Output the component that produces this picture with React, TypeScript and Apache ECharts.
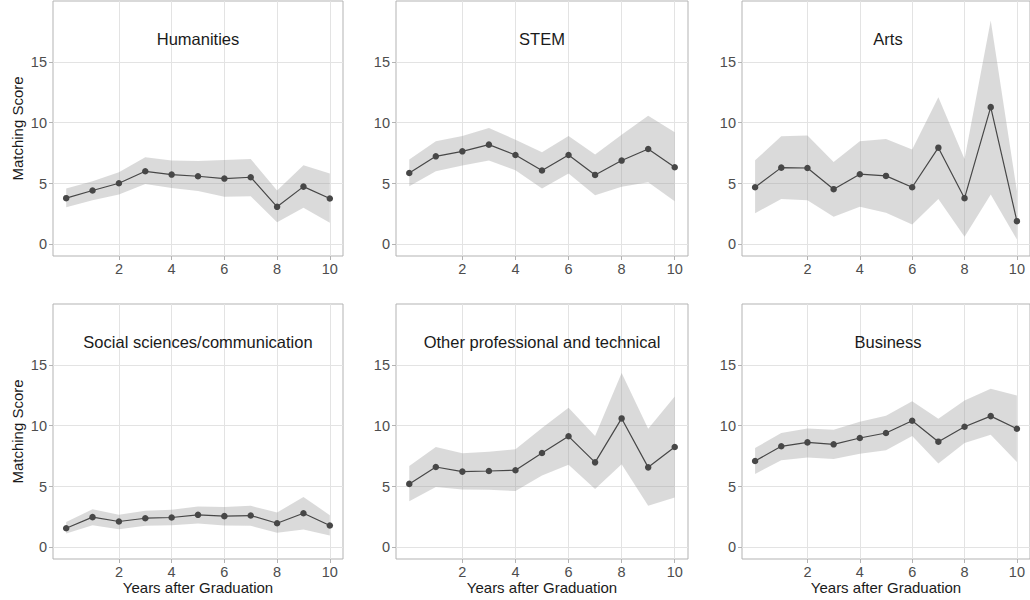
import React, { useEffect, useRef } from "react";
import * as echarts from "echarts";

// ---------------- data ----------------
const years = [0, 1, 2, 3, 4, 5, 6, 7, 8, 9, 10];

const panelTitles = [
  "Humanities",
  "STEM",
  "Arts",
  "Social sciences/communication",
  "Other professional and technical",
  "Business",
];

const humanitiesMean = [3.8, 4.43, 5.03, 6.01, 5.74, 5.6, 5.41, 5.52, 3.09, 4.75, 3.77];
const humanitiesUpper = [4.59, 5.19, 5.93, 7.16, 6.89, 6.86, 6.94, 7.02, 4.43, 6.5, 5.82];
const humanitiesLower = [3.06, 3.63, 4.1, 4.97, 4.64, 4.4, 3.91, 3.96, 1.83, 3.01, 1.78];

const stemMean = [5.87, 7.24, 7.65, 8.2, 7.35, 6.07, 7.35, 5.71, 6.89, 7.84, 6.34];
const stemUpper = [6.97, 8.47, 8.91, 9.56, 8.61, 7.57, 8.91, 7.38, 9.02, 10.57, 9.21];
const stemLower = [4.78, 6.01, 6.48, 6.89, 6.09, 4.59, 5.82, 4.04, 4.73, 5.11, 3.55];

const artsMean = [4.7, 6.31, 6.28, 4.54, 5.77, 5.63, 4.7, 7.95, 3.8, 11.28, 1.91];
const artsUpper = [6.91, 8.88, 8.96, 6.78, 8.47, 8.66, 7.79, 12.1, 7.02, 18.39, 4.37];
const artsLower = [2.57, 3.74, 3.63, 2.27, 3.09, 2.6, 1.64, 3.74, 0.63, 4.1, 0.41];

const socialMean = [1.58, 2.49, 2.13, 2.4, 2.46, 2.68, 2.57, 2.62, 1.99, 2.81, 1.8];
const socialUpper = [2.1, 3.14, 2.68, 3.01, 3.09, 3.36, 3.33, 3.42, 2.87, 4.15, 2.65];
const socialLower = [1.15, 1.83, 1.5, 1.78, 1.83, 1.97, 1.8, 1.78, 1.2, 1.48, 0.98];

const otherMean = [5.22, 6.61, 6.23, 6.28, 6.34, 7.76, 9.13, 6.99, 10.6, 6.58, 8.25];
const otherUpper = [6.69, 8.25, 7.73, 7.87, 8.06, 9.81, 11.48, 9.15, 14.34, 9.75, 12.4];
const otherLower = [3.8, 4.97, 4.75, 4.73, 4.64, 5.9, 6.8, 4.81, 6.83, 3.42, 4.1];

const businessMean = [7.1, 8.31, 8.63, 8.47, 8.99, 9.4, 10.41, 8.69, 9.92, 10.79, 9.75];
const businessUpper = [8.17, 9.4, 9.78, 9.67, 10.33, 10.82, 12.02, 10.57, 12.08, 13.03, 12.49];
const businessLower = [6.04, 7.16, 7.38, 7.27, 7.7, 7.98, 9.15, 6.89, 8.58, 9.26, 7.02];

const means = [humanitiesMean, stemMean, artsMean, socialMean, otherMean, businessMean];
const uppers = [humanitiesUpper, stemUpper, artsUpper, socialUpper, otherUpper, businessUpper];
const lowers = [humanitiesLower, stemLower, artsLower, socialLower, otherLower, businessLower];

const yTicks = [0, 5, 10, 15];
const xTicks = [2, 4, 6, 8, 10];
const titleY = 16.9;

// ---------------- layout ----------------
const colLeft = [53, 396, 742];
const colWidth = [290, 292, 292];
const rowTop = [1, 304];
const rowHeight = 255;
const yMin = -0.95;
const yMax = 20;
const xMin = -0.5;
const xMax = 10.5;

const FONT = "'Liberation Sans', Arial, Helvetica, sans-serif";

export default function App() {
  const ref = useRef<HTMLDivElement>(null);

  useEffect(() => {
    document.body.style.margin = "0";
    if (!ref.current) return;
    const chart = echarts.init(ref.current, undefined, { renderer: "svg" });

    const grids: any[] = [];
    const xAxes: any[] = [];
    const yAxes: any[] = [];
    const series: any[] = [];
    const graphics: any[] = [];

    for (let i = 0; i < 6; i++) {
      const r = Math.floor(i / 3);
      const c = i % 3;
      const left = colLeft[c];
      const width = colWidth[c];
      const top = rowTop[r];
      grids.push({
        left,
        top,
        width,
        height: rowHeight,
        show: true,
        borderColor: "#b3b3b3",
        borderWidth: 1,
        backgroundColor: "transparent",
        containLabel: false,
      });
      xAxes.push({
        type: "value",
        gridIndex: i,
        min: xMin,
        max: xMax,
        axisLine: { show: false, onZero: false },
        axisTick: {
          show: true,
          length: 4,
          customValues: xTicks,
          lineStyle: { color: "#b3b3b3", width: 1 },
        },
        axisLabel: {
          customValues: xTicks,
          color: "#4d4d4d",
          fontSize: 14.5,
          fontFamily: FONT,
          margin: 5,
        },
        splitLine: { show: false },
        name: r === 1 ? "Years after Graduation" : "",
        nameLocation: "middle",
        nameGap: 20,
        nameTextStyle: { color: "#1a1a1a", fontSize: 15, fontFamily: FONT },
      });
      yAxes.push({
        type: "value",
        gridIndex: i,
        min: yMin,
        max: yMax,
        axisLine: { show: false, onZero: false },
        axisTick: {
          show: true,
          length: 4,
          customValues: yTicks,
          lineStyle: { color: "#b3b3b3", width: 1 },
        },
        axisLabel: {
          customValues: yTicks,
          color: "#4d4d4d",
          fontSize: 14.5,
          fontFamily: FONT,
          margin: 6,
        },
        splitLine: { show: false },
        name: c === 0 ? "Matching Score" : "",
        nameLocation: "middle",
        nameRotate: 90,
        nameGap: 28,
        nameTextStyle: { color: "#1a1a1a", fontSize: 15, fontFamily: FONT },
      });

      const lower = lowers[i];
      const upper = uppers[i];
      const mean = means[i];
      const bandData = years.map((x, k) => [x, lower[k], upper[k]]);

      series.push({
        type: "custom",
        xAxisIndex: i,
        yAxisIndex: i,
        data: bandData,
        encode: { x: 0, y: [1, 2] },
        silent: true,
        z: 2,
        renderItem: (params: any, api: any) => {
          if (params.dataIndex !== 0) return null;
          const top = bandData.map((d) => api.coord([d[0], d[2]]));
          const bottom = bandData
            .slice()
            .reverse()
            .map((d) => api.coord([d[0], d[1]]));
          return {
            type: "polygon",
            shape: { points: top.concat(bottom) },
            style: { fill: "#999999", opacity: 0.36, stroke: "none" },
          };
        },
        markLine: {
          silent: true,
          symbol: ["none", "none"],
          label: { show: false },
          z: 1,
          lineStyle: { color: "#e3e3e3", width: 1, type: "solid" },
          data: [
            ...yTicks.map((v) => ({ yAxis: v })),
            ...xTicks.map((v) => ({ xAxis: v })),
          ],
        },
      });
      series.push({
        type: "line",
        xAxisIndex: i,
        yAxisIndex: i,
        data: years.map((x, k) => [x, mean[k]]),
        symbol: "circle",
        symbolSize: 6.5,
        itemStyle: { color: "#474747" },
        lineStyle: { color: "#474747", width: 1.2 },
        silent: true,
        z: 3,
      });

      const cx = left + width / 2;
      const cy = top + ((yMax - titleY) / (yMax - yMin)) * rowHeight;
      graphics.push({
        type: "text",
        x: cx,
        y: cy,
        z: 10,
        style: {
          text: panelTitles[i],
          fill: "#1a1a1a",
          fontSize: 16.5,
          fontFamily: FONT,
          textAlign: "center",
          textVerticalAlign: "middle",
        },
      });
    }

    chart.setOption({
      animation: false,
      backgroundColor: "#ffffff",
      textStyle: { fontFamily: FONT },
      grid: grids,
      xAxis: xAxes,
      yAxis: yAxes,
      series,
      graphic: graphics,
    });

    return () => {
      chart.dispose();
    };
  }, []);

  return <div ref={ref} style={{ width: 1030, height: 600 }} />;
}
